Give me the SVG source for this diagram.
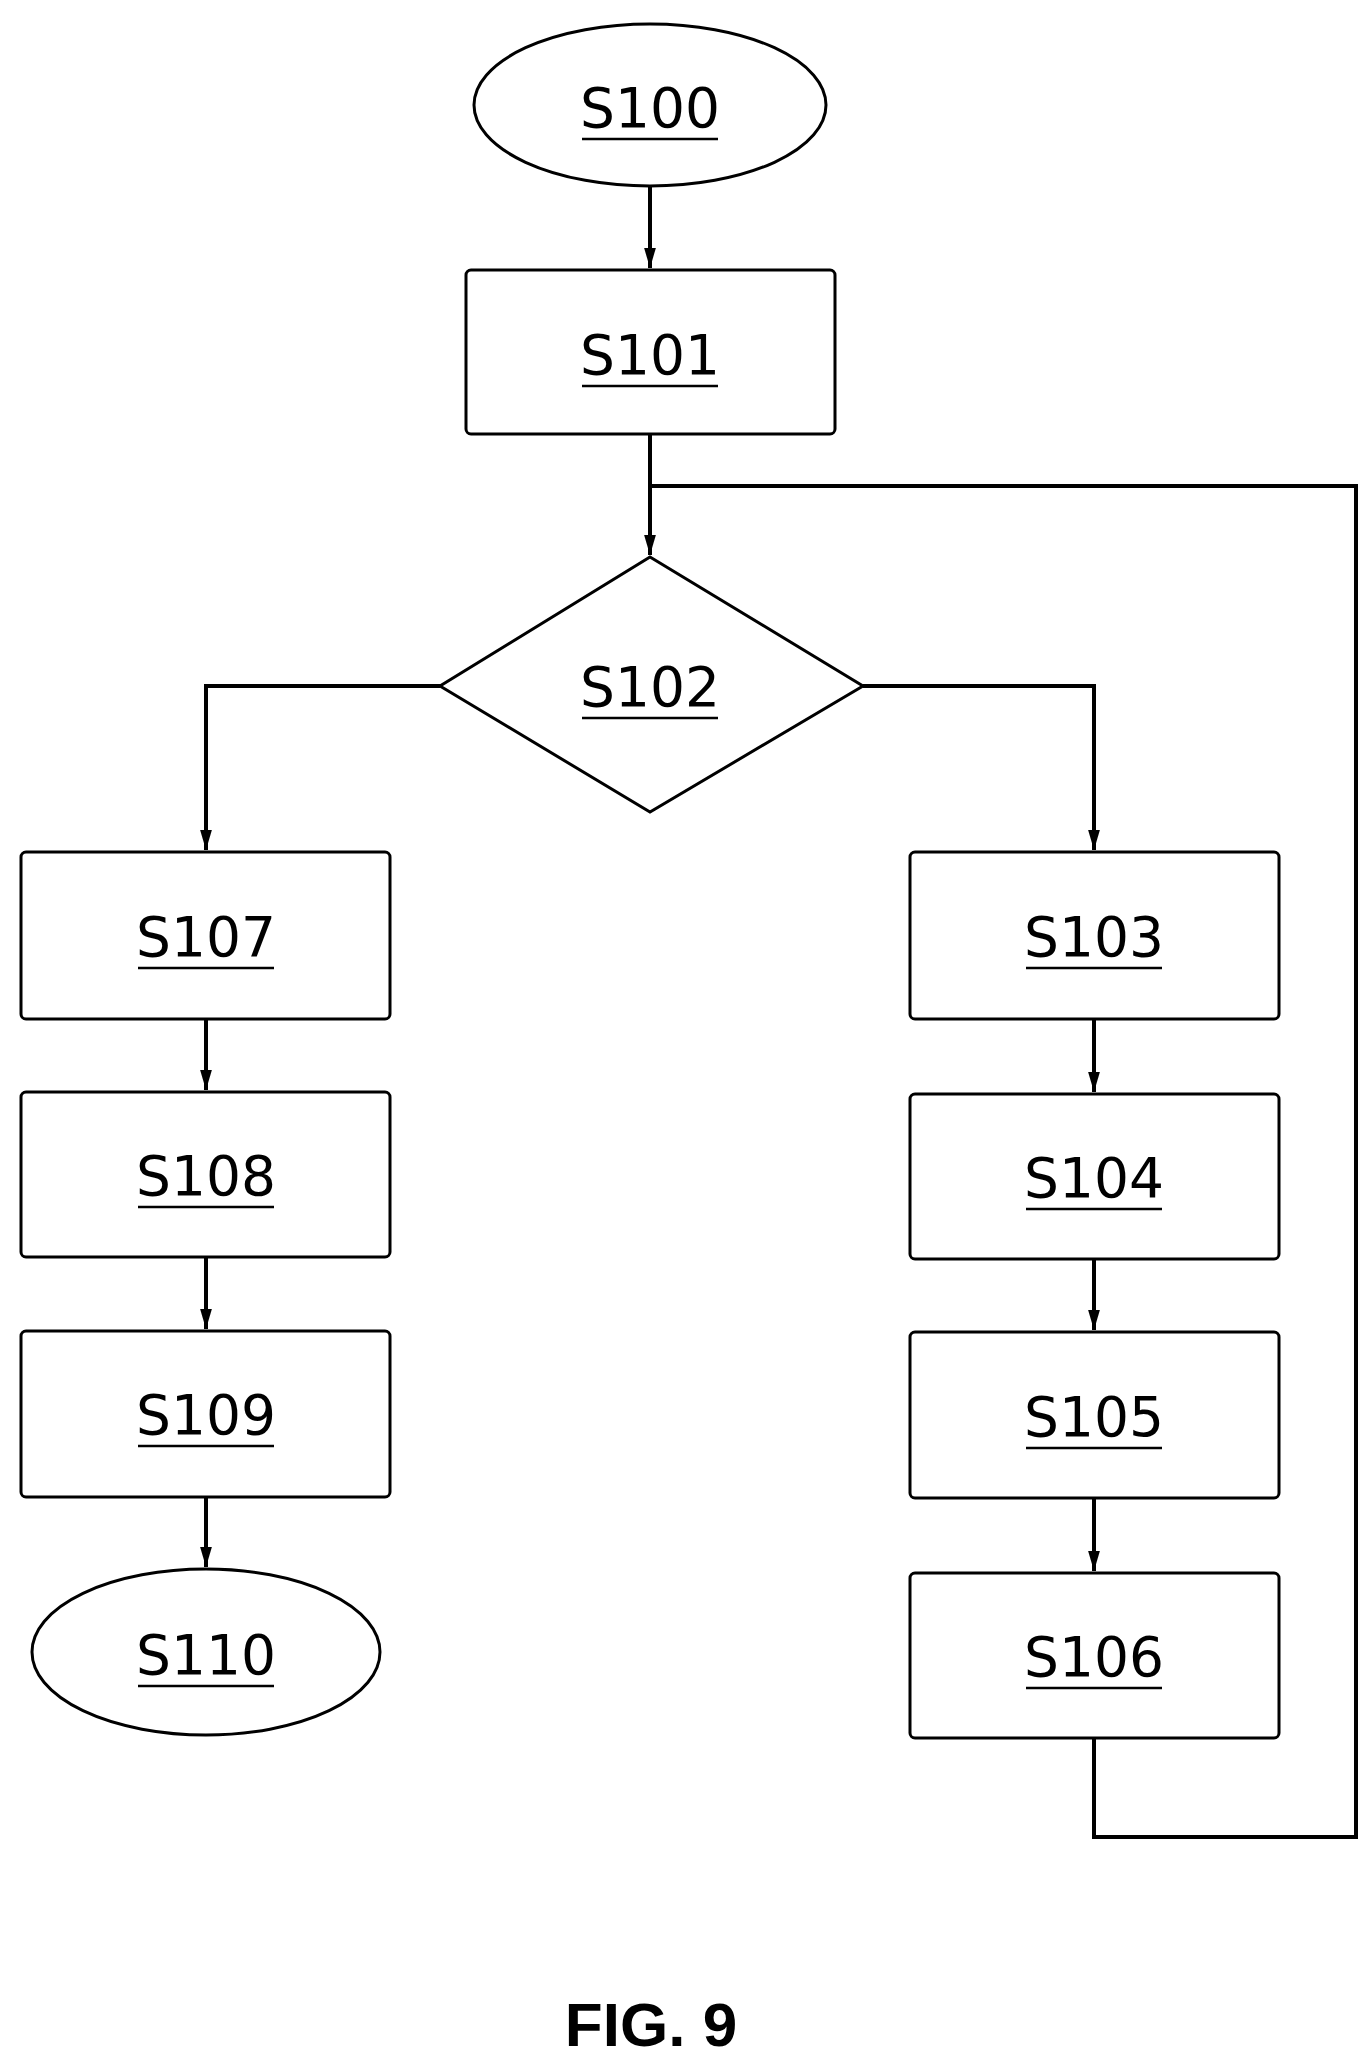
<svg xmlns="http://www.w3.org/2000/svg" width="1364" height="2066" viewBox="0 0 1364 2066">
<defs>
<style>
.s{fill:#fff;stroke:#000;stroke-width:3}
.t{font-family:"DejaVu Sans",sans-serif;font-size:55px;text-anchor:middle;fill:#000}
.u{stroke:#000;stroke-width:2.5}
.c{fill:none;stroke:#000;stroke-width:4}
</style>
<marker id="a" viewBox="0 0 10 10" refX="10" refY="5" markerWidth="5" markerHeight="8" markerUnits="userSpaceOnUse" orient="auto" style="overflow:visible"><path d="M0,0L10,5L0,10z"/></marker>
<marker id="ah" viewBox="0 0 20 34" refX="34" refY="10" markerWidth="34" markerHeight="20" orient="auto" markerUnits="userSpaceOnUse"><path d="M0,0L34,10L0,20z" fill="#000"/></marker>
</defs>
<rect width="1364" height="2066" fill="#fff"/>
<g id="connectors">
<path class="c" d="M650,186V268" marker-end="url(#ah)"/>
<path class="c" d="M650,434V555" marker-end="url(#ah)"/>
<path class="c" d="M1094,1738V1837H1356V486H650"/>
<path class="c" d="M440,686H206V850" marker-end="url(#ah)"/>
<path class="c" d="M863,686H1094V850" marker-end="url(#ah)"/>
<path class="c" d="M206,1019V1090" marker-end="url(#ah)"/>
<path class="c" d="M206,1257V1329" marker-end="url(#ah)"/>
<path class="c" d="M206,1497V1567" marker-end="url(#ah)"/>
<path class="c" d="M1094,1019V1092" marker-end="url(#ah)"/>
<path class="c" d="M1094,1259V1330" marker-end="url(#ah)"/>
<path class="c" d="M1094,1498V1571" marker-end="url(#ah)"/>
</g>
<g id="S100"><ellipse class="s" cx="650" cy="105" rx="176" ry="81"/><text class="t" x="650" y="127">S100</text><line class="u" x1="582" y1="139" x2="718" y2="139"/></g>
<g id="S101"><rect class="s" x="466" y="270" width="369" height="164" rx="5"/><text class="t" x="650" y="374">S101</text><line class="u" x1="582" y1="386" x2="718" y2="386"/></g>
<g id="S102"><polygon class="s" points="650,557 863,686 650,812 440,686"/><text class="t" x="650" y="706">S102</text><line class="u" x1="582" y1="718" x2="718" y2="718"/></g>
<g id="S107"><rect class="s" x="21" y="852" width="369" height="167" rx="5"/><text class="t" x="206" y="956">S107</text><line class="u" x1="138" y1="968" x2="274" y2="968"/></g>
<g id="S108"><rect class="s" x="21" y="1092" width="369" height="165" rx="5"/><text class="t" x="206" y="1195">S108</text><line class="u" x1="138" y1="1207" x2="274" y2="1207"/></g>
<g id="S109"><rect class="s" x="21" y="1331" width="369" height="166" rx="5"/><text class="t" x="206" y="1434">S109</text><line class="u" x1="138" y1="1446" x2="274" y2="1446"/></g>
<g id="S110"><ellipse class="s" cx="206" cy="1652" rx="174" ry="83"/><text class="t" x="206" y="1674">S110</text><line class="u" x1="138" y1="1686" x2="274" y2="1686"/></g>
<g id="S103"><rect class="s" x="910" y="852" width="369" height="167" rx="5"/><text class="t" x="1094" y="956">S103</text><line class="u" x1="1026" y1="968" x2="1162" y2="968"/></g>
<g id="S104"><rect class="s" x="910" y="1094" width="369" height="165" rx="5"/><text class="t" x="1094" y="1197">S104</text><line class="u" x1="1026" y1="1209" x2="1162" y2="1209"/></g>
<g id="S105"><rect class="s" x="910" y="1332" width="369" height="166" rx="5"/><text class="t" x="1094" y="1436">S105</text><line class="u" x1="1026" y1="1448" x2="1162" y2="1448"/></g>
<g id="S106"><rect class="s" x="910" y="1573" width="369" height="165" rx="5"/><text class="t" x="1094" y="1676">S106</text><line class="u" x1="1026" y1="1688" x2="1162" y2="1688"/></g>
<text x="651" y="2046" font-family="Liberation Sans,sans-serif" font-weight="bold" font-size="62" text-anchor="middle">FIG. 9</text>
</svg>
